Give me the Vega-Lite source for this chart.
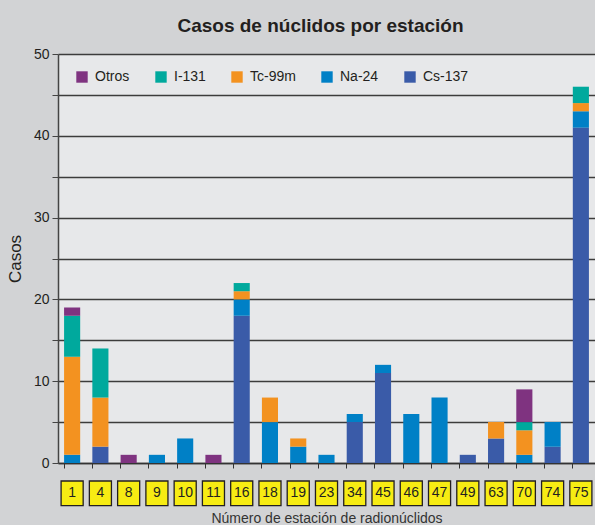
{
  "$schema": "https://vega.github.io/schema/vega-lite/v6.json",
  "width": 537,
  "height": 409,
  "autosize": {"type": "none"},
  "padding": {"left": 58, "top": 54, "right": 0, "bottom": 62},
  "background": "#d2d3d5",
  "title": {
    "text": "Casos de núclidos por estación",
    "font": "Liberation Sans",
    "fontSize": 19,
    "fontWeight": "bold",
    "color": "#231f20",
    "anchor": "middle",
    "offset": 11,
    "dx": -6
  },
  "config": {
    "view": {"fill": "#e7e8ea", "stroke": null},
    "font": "Liberation Sans"
  },
  "datasets": {
    "casos": [
      {"est": "1", "nuclido": "Na-24", "orden": 2, "casos": 1},
      {"est": "1", "nuclido": "Tc-99m", "orden": 3, "casos": 12},
      {"est": "1", "nuclido": "I-131", "orden": 4, "casos": 5},
      {"est": "1", "nuclido": "Otros", "orden": 5, "casos": 1},
      {"est": "4", "nuclido": "Cs-137", "orden": 1, "casos": 2},
      {"est": "4", "nuclido": "Tc-99m", "orden": 3, "casos": 6},
      {"est": "4", "nuclido": "I-131", "orden": 4, "casos": 6},
      {"est": "8", "nuclido": "Otros", "orden": 5, "casos": 1},
      {"est": "9", "nuclido": "Na-24", "orden": 2, "casos": 1},
      {"est": "10", "nuclido": "Na-24", "orden": 2, "casos": 3},
      {"est": "11", "nuclido": "Otros", "orden": 5, "casos": 1},
      {"est": "16", "nuclido": "Cs-137", "orden": 1, "casos": 18},
      {"est": "16", "nuclido": "Na-24", "orden": 2, "casos": 2},
      {"est": "16", "nuclido": "Tc-99m", "orden": 3, "casos": 1},
      {"est": "16", "nuclido": "I-131", "orden": 4, "casos": 1},
      {"est": "18", "nuclido": "Na-24", "orden": 2, "casos": 5},
      {"est": "18", "nuclido": "Tc-99m", "orden": 3, "casos": 3},
      {"est": "19", "nuclido": "Na-24", "orden": 2, "casos": 2},
      {"est": "19", "nuclido": "Tc-99m", "orden": 3, "casos": 1},
      {"est": "23", "nuclido": "Na-24", "orden": 2, "casos": 1},
      {"est": "34", "nuclido": "Cs-137", "orden": 1, "casos": 5},
      {"est": "34", "nuclido": "Na-24", "orden": 2, "casos": 1},
      {"est": "45", "nuclido": "Cs-137", "orden": 1, "casos": 11},
      {"est": "45", "nuclido": "Na-24", "orden": 2, "casos": 1},
      {"est": "46", "nuclido": "Na-24", "orden": 2, "casos": 6},
      {"est": "47", "nuclido": "Na-24", "orden": 2, "casos": 8},
      {"est": "49", "nuclido": "Cs-137", "orden": 1, "casos": 1},
      {"est": "63", "nuclido": "Cs-137", "orden": 1, "casos": 3},
      {"est": "63", "nuclido": "Tc-99m", "orden": 3, "casos": 2},
      {"est": "70", "nuclido": "Na-24", "orden": 2, "casos": 1},
      {"est": "70", "nuclido": "Tc-99m", "orden": 3, "casos": 3},
      {"est": "70", "nuclido": "I-131", "orden": 4, "casos": 1},
      {"est": "70", "nuclido": "Otros", "orden": 5, "casos": 4},
      {"est": "74", "nuclido": "Cs-137", "orden": 1, "casos": 2},
      {"est": "74", "nuclido": "Na-24", "orden": 2, "casos": 3},
      {"est": "75", "nuclido": "Cs-137", "orden": 1, "casos": 41},
      {"est": "75", "nuclido": "Na-24", "orden": 2, "casos": 2},
      {"est": "75", "nuclido": "Tc-99m", "orden": 3, "casos": 1},
      {"est": "75", "nuclido": "I-131", "orden": 4, "casos": 2}
    ],
    "estaciones": [
      {"est": "1"}, {"est": "4"}, {"est": "8"}, {"est": "9"}, {"est": "10"},
      {"est": "11"}, {"est": "16"}, {"est": "18"}, {"est": "19"}, {"est": "23"},
      {"est": "34"}, {"est": "45"}, {"est": "46"}, {"est": "47"}, {"est": "49"},
      {"est": "63"}, {"est": "70"}, {"est": "74"}, {"est": "75"}
    ]
  },
  "encoding": {
    "x": {
      "field": "est",
      "type": "nominal",
      "sort": ["1","4","8","9","10","11","16","18","19","23","34","45","46","47","49","63","70","74","75"],
      "scale": {"paddingInner": 0.43, "paddingOuter": 0.215},
      "axis": {
        "title": "Número de estación de radionúclidos",
        "titleFont": "Liberation Sans",
        "titleFontSize": 14,
        "titleFontWeight": "normal",
        "titleColor": "#333333",
        "titlePadding": 43,
        "labels": false,
        "bandPosition": 0,
        "tickSize": 5,
        "tickColor": "#333333",
        "domainColor": "#333333",
        "domainWidth": 1.5,
        "grid": false
      }
    }
  },
  "layer": [
    {
      "data": {"name": "casos"},
      "mark": {"type": "bar"},
      "encoding": {
        "y": {
          "field": "casos",
          "type": "quantitative",
          "aggregate": "sum",
          "stack": "zero",
          "scale": {"domain": [0, 50], "nice": false, "zero": true},
          "axis": {
            "title": "Casos",
            "titleFont": "Liberation Sans",
            "titleFontSize": 17,
            "titleFontWeight": "normal",
            "titleColor": "#231f20",
            "titlePadding": 9,
            "values": [0, 5, 10, 15, 20, 25, 30, 35, 40, 45, 50],
            "labelExpr": "datum.value % 10 == 0 ? datum.label : ''",
            "labelFont": "Liberation Sans Narrow, Liberation Sans",
            "labelFontSize": 14,
            "labelColor": "#231f20",
            "labelPadding": 3,
            "tickSize": 6,
            "tickColor": "#444444",
            "domainColor": "#444444",
            "domainWidth": 1.5,
            "grid": true,
            "gridColor": "#3c3c3c",
            "gridWidth": 1.6
          }
        },
        "color": {
          "field": "nuclido",
          "type": "nominal",
          "scale": {
            "domain": ["Otros", "I-131", "Tc-99m", "Na-24", "Cs-137"],
            "range": ["#7f3380", "#00a99d", "#f39220", "#0080c6", "#3a5ba8"]
          },
          "legend": {
            "title": null,
            "orient": "none",
            "direction": "horizontal",
            "legendX": 17,
            "legendY": 16,
            "symbolType": "square",
            "symbolSize": 130,
            "symbolStrokeWidth": 0,
            "symbolOpacity": 1,
            "labelFont": "Liberation Sans",
            "labelFontSize": 14,
            "labelColor": "#231f20",
            "labelOffset": 6,
            "columnPadding": 24
          }
        },
        "order": {"field": "orden", "type": "quantitative", "sort": "ascending"}
      }
    },
    {
      "data": {"name": "estaciones"},
      "mark": {"type": "bar", "fill": "#f7ec13", "stroke": "#231f20", "strokeWidth": 1.3, "width": {"band": 1.37}},
      "encoding": {
        "y": {"datum": -2.2},
        "y2": {"datum": -5.2}
      }
    },
    {
      "data": {"name": "estaciones"},
      "mark": {"type": "text", "font": "Liberation Sans Narrow, Liberation Sans", "fontSize": 14, "color": "#231f20", "baseline": "middle"},
      "encoding": {
        "y": {"datum": -3.7},
        "text": {"field": "est"}
      }
    }
  ]
}
